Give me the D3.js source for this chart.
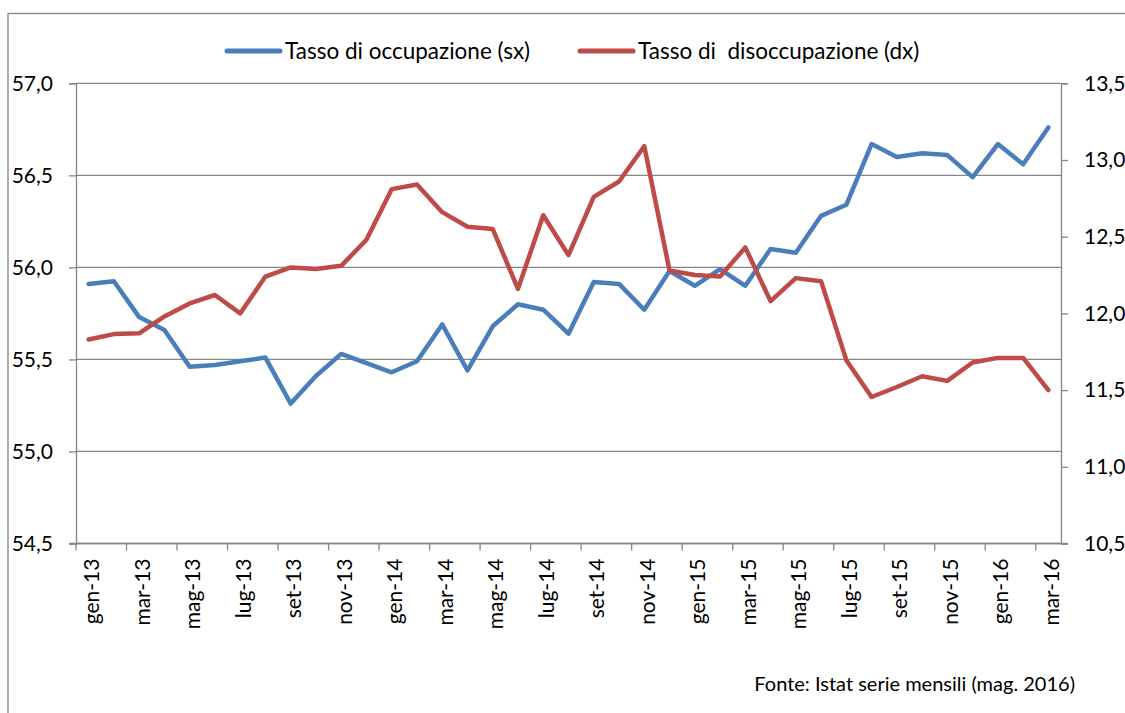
<!DOCTYPE html>
<html>
<head>
<meta charset="utf-8">
<script src="https://cdn.jsdelivr.net/npm/d3@7/dist/d3.min.js"></script>
<style>
  html, body { margin: 0; padding: 0; background: #fff; }
  svg { display: block; }
  text { font-family: Lato, "Open Sans", sans-serif; fill: #000; }
</style>
</head>
<body>
<svg id="chart" width="1125" height="713"></svg>
<script>
const categories = ["gen-13","feb-13","mar-13","apr-13","mag-13","giu-13","lug-13","ago-13","set-13","ott-13","nov-13","dic-13",
  "gen-14","feb-14","mar-14","apr-14","mag-14","giu-14","lug-14","ago-14","set-14","ott-14","nov-14","dic-14",
  "gen-15","feb-15","mar-15","apr-15","mag-15","giu-15","lug-15","ago-15","set-15","ott-15","nov-15","dic-15",
  "gen-16","feb-16","mar-16"];
const occupazione = [55.91,55.925,55.73,55.66,55.46,55.47,55.49,55.51,55.26,55.41,55.53,55.48,
  55.43,55.49,55.69,55.44,55.68,55.80,55.77,55.64,55.92,55.91,55.77,55.98,
  55.90,55.99,55.90,56.10,56.08,56.28,56.34,56.67,56.60,56.62,56.61,56.49,
  56.67,56.56,56.76];
const disoccupazione = [11.83,11.865,11.87,11.98,12.065,12.12,12.0,12.24,12.30,12.29,12.31,12.48,
  12.81,12.84,12.66,12.565,12.55,12.16,12.64,12.38,12.76,12.86,13.09,12.28,
  12.25,12.24,12.43,12.08,12.23,12.21,11.695,11.455,11.52,11.59,11.56,11.68,
  11.71,11.71,11.50];
const leftTicks = [54.5,55.0,55.5,56.0,56.5,57.0];
const rightTicks = [10.5,11.0,11.5,12.0,12.5,13.0,13.5];
const seriesNames = ["Tasso di occupazione (sx)", "Tasso di  disoccupazione (dx)"];
const sourceNote = "Fonte: Istat serie mensili (mag. 2016)";

const colors = ["#4A7EBB", "#BE4B48"];
const gridColor = "#868686";

const svg = d3.select("#chart");
const L = 76, R = 1061, T = 83.3, B = 543.5;

// outer frame
svg.append("rect").attr("x", 8).attr("y", 13.5).attr("width", 1200).attr("height", 800)
  .attr("fill", "none").attr("stroke", gridColor).attr("stroke-width", 1.3);

const x = d3.scaleBand().domain(categories).range([L, R]).padding(0);
const yL = d3.scaleLinear().domain([54.5, 57]).range([B, T]);
const yR = d3.scaleLinear().domain([10.5, 13.5]).range([B, T]);
const fmt = v => d3.format(".1f")(v).replace(".", ",");

// gridlines
svg.append("g").selectAll("line").data(leftTicks).join("line")
  .attr("x1", L).attr("x2", R).attr("y1", d => yL(d)).attr("y2", d => yL(d))
  .attr("stroke", gridColor).attr("stroke-width", 1.3);

// left axis
const gL = svg.append("g").attr("transform", `translate(${L},0)`)
  .call(d3.axisLeft(yL).tickValues(leftTicks).tickFormat(fmt).tickSize(7).tickPadding(16));
gL.select(".domain").attr("stroke", gridColor).attr("stroke-width", 1.3);
gL.selectAll(".tick line").attr("stroke", gridColor).attr("stroke-width", 1.3);
gL.selectAll("text").style("font-size", "21px").style("font-family", "Lato, sans-serif").attr("fill", "#000");

// right axis
const gR = svg.append("g").attr("transform", `translate(${R},0)`)
  .call(d3.axisRight(yR).tickValues(rightTicks).tickFormat(fmt).tickSize(7).tickPadding(16));
gR.select(".domain").attr("stroke", gridColor).attr("stroke-width", 1.3);
gR.selectAll(".tick line").attr("stroke", gridColor).attr("stroke-width", 1.3);
gR.selectAll("text").style("font-size", "21px").style("font-family", "Lato, sans-serif").attr("fill", "#000");

// x axis
const labelCats = categories.filter((d, i) => i % 2 === 0);
const gX = svg.append("g").attr("transform", `translate(0,${B})`)
  .call(d3.axisBottom(x).tickValues(labelCats).tickSize(0).tickPadding(0));
gX.select(".domain").remove();
gX.selectAll(".tick text")
  .attr("transform", "translate(3,15) rotate(-90)")
  .attr("text-anchor", "end").attr("dy", "0.35em").attr("y", 0)
  .style("font-size", "21px").style("font-family", "Lato, sans-serif").attr("fill", "#000");
svg.append("line").attr("x1", L - 7).attr("x2", R + 7).attr("y1", B).attr("y2", B)
  .attr("stroke", gridColor).attr("stroke-width", 1.3);
svg.append("g").selectAll("line").data(labelCats).join("line")
  .attr("x1", d => x(d)).attr("x2", d => x(d)).attr("y1", B).attr("y2", B + 7)
  .attr("stroke", gridColor).attr("stroke-width", 1.3);

// series
const cx = d => x(d) + x.bandwidth() / 2;
const lineL = d3.line().x((d, i) => cx(categories[i])).y(d => yL(d));
const lineR = d3.line().x((d, i) => cx(categories[i])).y(d => yR(d));
svg.append("path").datum(occupazione).attr("d", lineL)
  .attr("fill", "none").attr("stroke", colors[0]).attr("stroke-width", 4.5)
  .attr("stroke-linejoin", "round").attr("stroke-linecap", "round");
svg.append("path").datum(disoccupazione).attr("d", lineR)
  .attr("fill", "none").attr("stroke", colors[1]).attr("stroke-width", 4.5)
  .attr("stroke-linejoin", "round").attr("stroke-linecap", "round");

// legend
const legendPos = [{x1: 227, x2: 280, tx: 285}, {x1: 580, x2: 633, tx: 638}];
const lg = svg.append("g");
seriesNames.forEach((name, i) => {
  const p = legendPos[i];
  lg.append("line").attr("x1", p.x1).attr("x2", p.x2).attr("y1", 51).attr("y2", 51)
    .attr("stroke", colors[i]).attr("stroke-width", 5).attr("stroke-linecap", "round");
  lg.append("text").attr("x", p.tx).attr("y", 51).attr("dy", "0.36em")
    .style("font-size", "22.5px").style("white-space", "pre").text(name);
});

// source
svg.append("text").attr("x", 1075).attr("y", 691).attr("text-anchor", "end")
  .style("font-size", "20px").text(sourceNote);
</script>
</body>
</html>
